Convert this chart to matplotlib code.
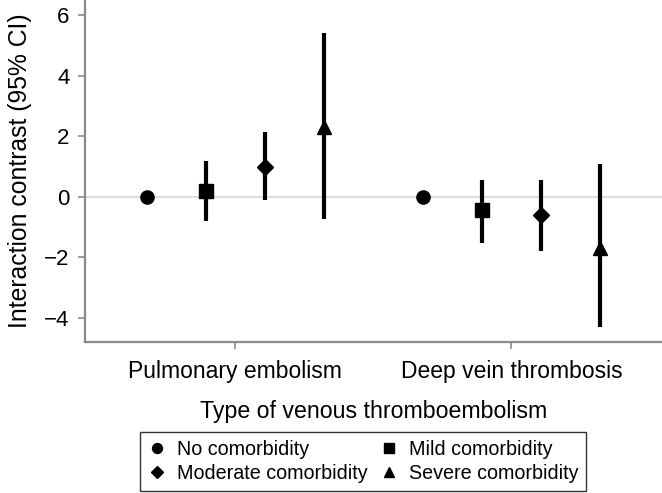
import numpy as np
import matplotlib
matplotlib.use('Agg')
import matplotlib.pyplot as plt

plt.rcParams['font.family'] = ['Liberation Sans', 'DejaVu Sans']

# Data
groups = ['Pulmonary embolism', 'Deep vein thrombosis']
levels = ['No comorbidity', 'Mild comorbidity', 'Moderate comorbidity', 'Severe comorbidity']
markers = ['o', 's', 'D', '^']
msizes = [9.5, 9.5, 8.5, 10.5]

pe_est = [0.0, 0.2, 1.0, 2.3]
pe_lo = [0.0, -0.8, -0.1, -0.73]
pe_hi = [0.0, 1.17, 2.15, 5.4]

dvt_est = [0.0, -0.42, -0.6, -1.7]
dvt_lo = [0.0, -1.51, -1.8, -4.3]
dvt_hi = [0.0, 0.57, 0.57, 1.07]

offsets = [-0.32, -0.107, 0.107, 0.32]

fig = plt.figure(figsize=(6.62, 4.93), dpi=100)
ax = fig.add_axes([0.128, 0.306, 0.872, 0.694])

ax.axhline(0, color='#dddddd', lw=1.5, zorder=0)

handles = []
for gi, (est, lo, hi) in enumerate([(pe_est, pe_lo, pe_hi), (dvt_est, dvt_lo, dvt_hi)]):
    for k in range(4):
        x = gi + 1 + offsets[k]
        if hi[k] != lo[k]:
            ax.plot([x, x], [lo[k], hi[k]], color='black', lw=3, solid_capstyle='butt', zorder=2)
        h, = ax.plot([x], [est[k]], marker=markers[k], ms=msizes[k], color='black',
                     linestyle='none', zorder=3)
        if gi == 0:
            handles.append(h)

ax.set_xlim(0.455, 2.545)
ax.set_ylim(-4.8, 6.5)
ax.set_xticks([1, 2])
ax.set_xticklabels(groups, fontsize=16.5)
ax.set_yticks([-4, -2, 0, 2, 4, 6])
ax.set_yticklabels(['\u22124', '\u22122', '0', '2', '4', '6'], fontsize=16)
ax.set_xlabel('Type of venous thromboembolism', fontsize=16.7, labelpad=12)
ax.set_ylabel('Interaction contrast (95% CI)', fontsize=17.8, labelpad=9)

for s in ['top', 'right']:
    ax.spines[s].set_visible(False)
for s in ['left', 'bottom']:
    ax.spines[s].set_color('#8a8a8a')
    ax.spines[s].set_linewidth(1.6)
ax.tick_params(axis='both', color='#8a8a8a', length=5, width=1.2)
ax.tick_params(axis='x', pad=8)
ax.tick_params(axis='y', pad=6)

# legend order: row-wise as in the picture
leg_h = [handles[0], handles[2], handles[1], handles[3]]
leg_l = [levels[0], levels[2], levels[1], levels[3]]
leg = fig.legend(leg_h, leg_l, loc='upper center',
                 bbox_to_anchor=(363 / 662, 1 - 432 / 493),
                 ncol=2, fontsize=14.2, frameon=True, fancybox=False,
                 edgecolor='black', handlelength=1.0, handletextpad=0.5,
                 columnspacing=0.6, borderpad=0.4, labelspacing=0.25,
                 markerscale=0.75, borderaxespad=0)
leg.get_frame().set_linewidth(1.0)

fig.savefig('out.png', dpi=100)
